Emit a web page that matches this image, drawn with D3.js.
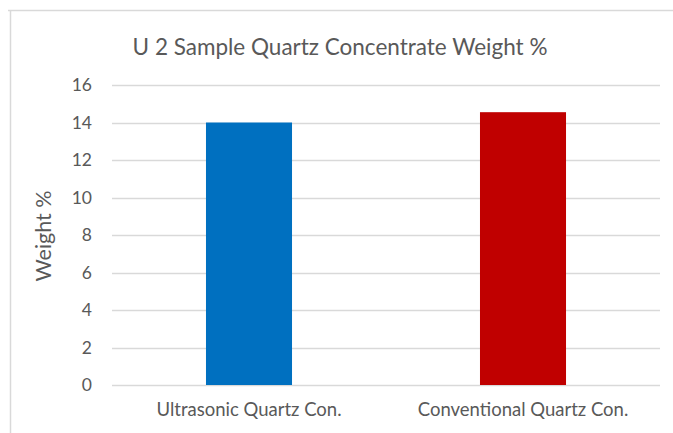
<!DOCTYPE html>
<html>
<head>
<meta charset="utf-8">
<script src="https://cdn.jsdelivr.net/npm/d3@7"></script>
<style>
  html, body { margin: 0; padding: 0; background: #fff; }
  svg text { font-family: Lato, "Open Sans", sans-serif; fill: #595959; }
</style>
</head>
<body>
<div id="chart"></div>
<script>
var categories = ['Ultrasonic Quartz Con.', 'Conventional Quartz Con.'];
var values = [14.0, 14.55];
var colors = ['#0070C0', '#C00000'];
var yTicks = [0, 2, 4, 6, 8, 10, 12, 14, 16];
var title = 'U 2 Sample Quartz Concentrate Weight %';
var yTitle = 'Weight %';

var width = 673;
var height = 433;
var margin = { top: 85, right: 13, bottom: 48, left: 112 };

var svg = d3.select('#chart').append('svg')
	.attr('width', width)
	.attr('height', height);

// chart frame
svg.append('path')
	.attr('d', 'M8,10.5 H' + width + ' M10.5,10 V' + height)
	.style('fill', 'none')
	.style('stroke', '#d9d9d9')
	.style('stroke-width', 1.5);

var x = d3.scaleBand()
	.domain(categories)
	.range([margin.left, width - margin.right])
	.paddingInner(0.686)
	.paddingOuter(0.343);

var y = d3.scaleLinear()
	.domain([0, 16])
	.range([height - margin.bottom, margin.top]);

// grid
svg.append('g').selectAll('line')
	.data(yTicks)
	.join('line')
	.attr('x1', margin.left)
	.attr('x2', width - margin.right)
	.attr('y1', function(d) { return Math.round(y(d)) + 0.5; })
	.attr('y2', function(d) { return Math.round(y(d)) + 0.5; })
	.style('stroke', '#d9d9d9')
	.style('stroke-width', 1.3);

// bars
svg.append('g').selectAll('rect')
	.data(values)
	.join('rect')
	.attr('x', function(d, i) { return x(categories[i]); })
	.attr('width', x.bandwidth())
	.attr('y', function(d) { return y(d); })
	.attr('height', function(d) { return y(0) - y(d); })
	.style('fill', function(d, i) { return colors[i]; });

// y axis labels
var yAxis = d3.axisLeft(y).tickValues(yTicks).tickSize(0).tickPadding(20);
var gy = svg.append('g')
	.attr('transform', 'translate(' + margin.left + ',0)')
	.call(yAxis);
gy.select('.domain').remove();
gy.selectAll('text')
	.style('font-size', '17.5px')
	.style('font-family', 'Lato, "Open Sans", sans-serif')
	.style('fill', '#595959');

// x axis labels
var xAxis = d3.axisBottom(x).tickSize(0).tickPadding(18);
var gx = svg.append('g')
	.attr('transform', 'translate(0,' + y(0) + ')')
	.call(xAxis);
gx.select('.domain').remove();
gx.selectAll('text')
	.style('font-size', '18.5px')
	.style('font-family', 'Lato, "Open Sans", sans-serif')
	.style('fill', '#595959');

// title
svg.append('text')
	.attr('x', 340)
	.attr('y', 55)
	.attr('text-anchor', 'middle')
	.style('font-size', '22.5px')
	.text(title);

// y axis title
svg.append('text')
	.attr('transform', 'translate(51,236) rotate(-90)')
	.attr('text-anchor', 'middle')
	.style('font-size', '21.5px')
	.text(yTitle);
</script>
</body>
</html>
